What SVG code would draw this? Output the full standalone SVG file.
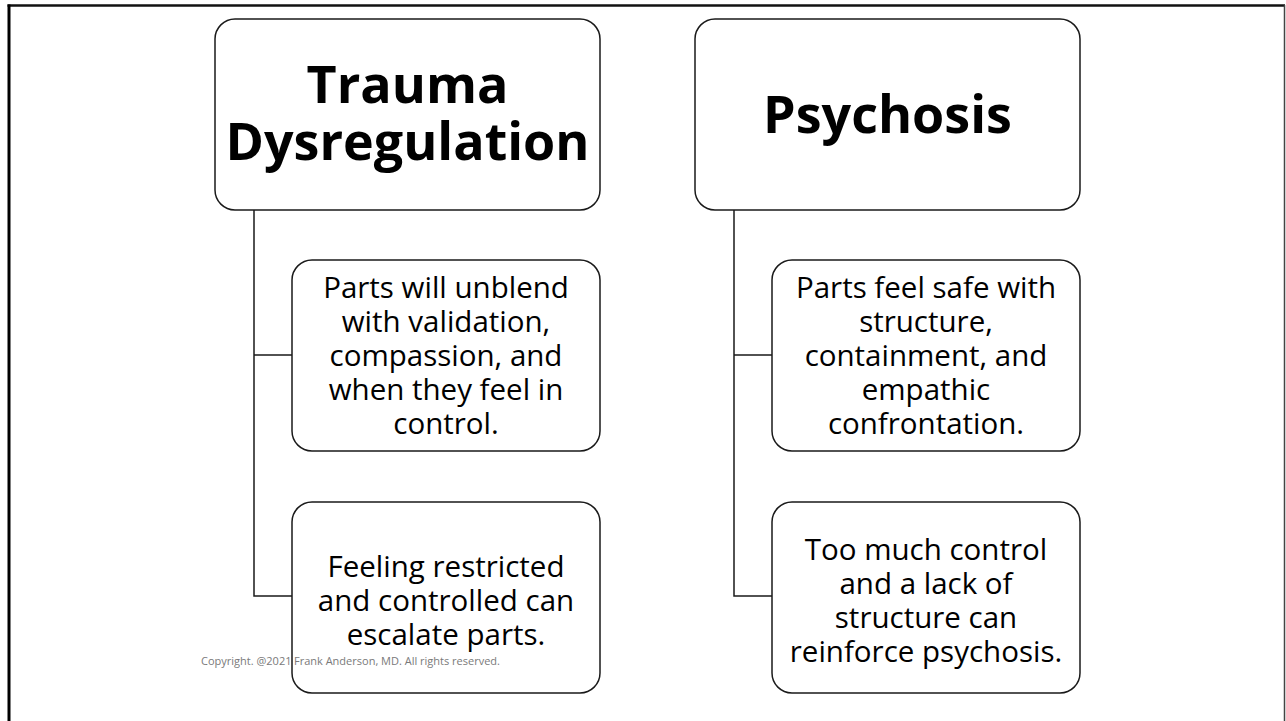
<svg xmlns="http://www.w3.org/2000/svg" width="1286" height="721" viewBox="0 0 1286 721">
  <style>
    .box { fill: #ffffff; stroke: #1a1a1a; stroke-width: 1.5; }
    .conn { fill: none; stroke: #1a1a1a; stroke-width: 1.5; }
    .title { font-family: "Open Sans", "Liberation Sans", sans-serif; font-weight: bold; font-size: 52px; fill: #000; text-anchor: middle; }
    .body { font-family: "Open Sans", "Liberation Sans", sans-serif; font-size: 29.5px; fill: #000; text-anchor: middle; }
    .copy { font-family: "Open Sans", "Liberation Sans", sans-serif; font-size: 11px; fill: #7a7a7a; }
  </style>
  <rect x="0" y="0" width="1286" height="721" fill="#ffffff"/>
  <g id="frame">
    <line x1="7.5" y1="5.5" x2="1285" y2="5.5" stroke="#111" stroke-width="2.5"/>
    <line x1="9" y1="4.5" x2="9" y2="721" stroke="#000" stroke-width="3"/>
    <line x1="1284.5" y1="5" x2="1284.5" y2="721" stroke="#444" stroke-width="1.5"/>
  </g>
  <g id="connectors">
    <path class="conn" d="M254,210 V596 H292 M254,355 H292"/>
    <path class="conn" d="M734,210 V596 H772 M734,355 H772"/>
  </g>
  <g id="node-trauma">
    <rect class="box" x="215" y="19" width="385" height="191" rx="20"/>
    <text class="title" x="407.5" y="103">Trauma</text>
    <text class="title" x="407.5" y="160">Dysregulation</text>
  </g>
  <g id="node-psychosis">
    <rect class="box" x="695" y="19" width="385" height="191" rx="20"/>
    <text class="title" x="887.5" y="133">Psychosis</text>
  </g>
  <g id="node-trauma-1">
    <rect class="box" x="292" y="260" width="308" height="191" rx="20"/>
    <text class="body" x="446" y="298">Parts will unblend</text>
    <text class="body" x="446" y="332">with validation,</text>
    <text class="body" x="446" y="366">compassion, and</text>
    <text class="body" x="446" y="400">when they feel in</text>
    <text class="body" x="446" y="434">control.</text>
  </g>
  <g id="node-trauma-2">
    <rect class="box" x="292" y="502" width="308" height="191" rx="20"/>
    <text class="body" x="446" y="577">Feeling restricted</text>
    <text class="body" x="446" y="611">and controlled can</text>
    <text class="body" x="446" y="645">escalate parts.</text>
  </g>
  <g id="node-psychosis-1">
    <rect class="box" x="772" y="260" width="308" height="191" rx="20"/>
    <text class="body" x="926" y="298">Parts feel safe with</text>
    <text class="body" x="926" y="332">structure,</text>
    <text class="body" x="926" y="366">containment, and</text>
    <text class="body" x="926" y="400">empathic</text>
    <text class="body" x="926" y="434">confrontation.</text>
  </g>
  <g id="node-psychosis-2">
    <rect class="box" x="772" y="502" width="308" height="191" rx="20"/>
    <text class="body" x="926" y="560">Too much control</text>
    <text class="body" x="926" y="594">and a lack of</text>
    <text class="body" x="926" y="628">structure can</text>
    <text class="body" x="926" y="662">reinforce psychosis.</text>
  </g>
  <text class="copy" x="201" y="665">Copyright. @2021 <tspan x="294">Frank Anderson, MD. All rights reserved.</tspan></text>
</svg>
